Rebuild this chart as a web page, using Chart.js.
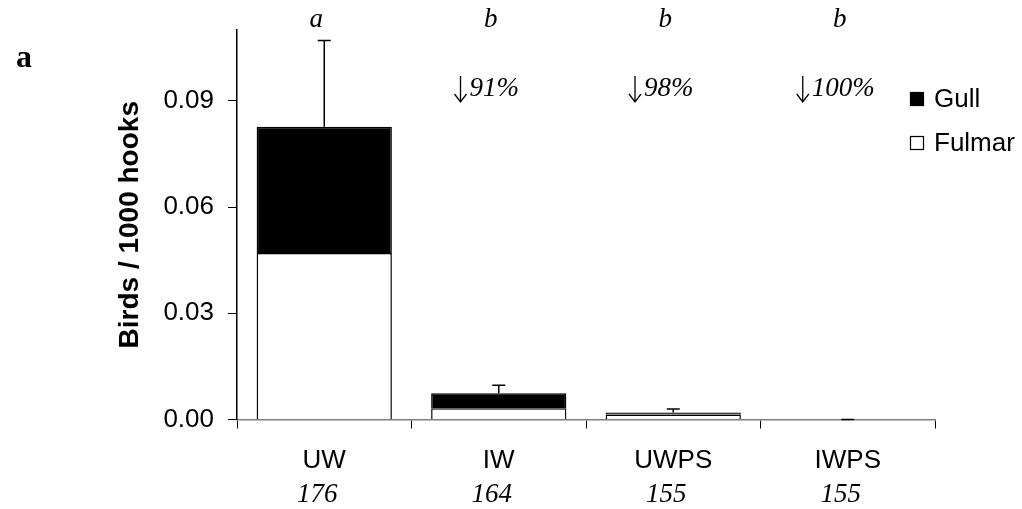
<!DOCTYPE html>
<html>
<head>
<meta charset="utf-8">
<script src="https://cdn.jsdelivr.net/npm/chart.js@4/dist/chart.umd.min.js"></script>
<style>
  html, body { margin: 0; padding: 0; background: #fff; }
  #wrap { width: 1022px; height: 509px; position: relative; }
</style>
</head>
<body>
<div id="wrap"><canvas id="c" width="1022" height="509"></canvas></div>
<script>
// Treatments and sample sizes (sets)
const categories = ['UW', 'IW', 'UWPS', 'IWPS'];
const sampleSizes = ['176', '164', '155', '155'];
// Seabird catch rate (birds / 1000 hooks), stacked by species
const fulmar = [0.0470, 0.0032, 0.0014, 0];
const gull   = [0.0357, 0.0042, 0.0006, 0];
// Upper end of the error bar on the total catch rate
const errorTop = [0.1070, 0.0097, 0.0030, 0];
// Significance groups and reduction relative to UW
const sigLetters = ['a', 'b', 'b', 'b'];
const reductions = ['', '91%', '98%', '100%'];
// y-axis ticks
const yTicks = [0, 0.03, 0.06, 0.09];

const SANS = '"Liberation Sans", Arial, sans-serif';
const SERIF = '"Liberation Serif", "Times New Roman", serif';

const annotate = {
  id: 'annotate',
  afterDatasetsDraw(chart) {
    const ctx = chart.ctx;
    const x = chart.scales.x, y = chart.scales.y;
    ctx.save();
    // error bars
    ctx.strokeStyle = '#000';
    ctx.lineWidth = 1.5;
    categories.forEach((c, i) => {
      const cx = x.getPixelForValue(i);
      const y0 = y.getPixelForValue(fulmar[i] + gull[i]);
      const y1 = y.getPixelForValue(errorTop[i]);
      ctx.beginPath();
      ctx.moveTo(cx, y0); ctx.lineTo(cx, y1);
      ctx.moveTo(cx - 6.5, y1); ctx.lineTo(cx + 6.5, y1);
      ctx.stroke();
    });
    // letters, reductions and sample sizes
    ctx.fillStyle = '#000';
    ctx.textBaseline = 'alphabetic';
    categories.forEach((c, i) => {
      const cx = x.getPixelForValue(i);
      ctx.textAlign = 'center';
      ctx.font = 'italic 27px ' + SERIF;
      ctx.fillText(sigLetters[i], cx - 8, 27);
      ctx.fillText(sampleSizes[i], cx - 7, 502);
      if (reductions[i]) {
        // downward arrow followed by the percentage
        const txt = reductions[i];
        const w = ctx.measureText(txt).width;
        const left = cx - 12 - (w + 15) / 2;
        ctx.textAlign = 'left';
        ctx.fillText(txt, left + 15, 96);
        ctx.lineWidth = 1.3;
        ctx.beginPath();
        ctx.moveTo(left + 6, 76); ctx.lineTo(left + 6, 102);
        ctx.moveTo(left, 94); ctx.lineTo(left + 6, 102); ctx.lineTo(left + 12, 94);
        ctx.stroke();
      }
    });
    // panel letter
    ctx.textAlign = 'left';
    ctx.font = 'bold 32px ' + SERIF;
    ctx.fillText('a', 16, 67);
    // legend: Gull above Fulmar
    const items = [chart.data.datasets[1], chart.data.datasets[0]];
    ctx.font = '26px ' + SANS;
    items.forEach((ds, k) => {
      const top = 92 + k * 44;
      ctx.fillStyle = ds.backgroundColor;
      ctx.fillRect(910, top, 14, 14);
      ctx.strokeStyle = '#000';
      ctx.lineWidth = 1.2;
      ctx.strokeRect(910.5, top + 0.5, 13, 13);
      ctx.fillStyle = '#000';
      ctx.fillText(ds.label, 934, top + 15);
    });
    ctx.restore();
  }
};

new Chart(document.getElementById('c'), {
  type: 'bar',
  data: {
    labels: categories,
    datasets: [
      { label: 'Fulmar', data: fulmar, backgroundColor: '#ffffff', borderColor: '#000', borderWidth: 1.5 },
      { label: 'Gull', data: gull, backgroundColor: '#000000', borderColor: '#000', borderWidth: 1.5 }
    ]
  },
  options: {
    responsive: false,
    animation: false,
    events: [],
    layout: { padding: { left: 0, right: 87, top: 30, bottom: 0 } },
    datasets: { bar: { categoryPercentage: 1, barPercentage: 0.775 } },
    plugins: { legend: { display: false }, tooltip: { enabled: false } },
    scales: {
      x: {
        stacked: true,
        grid: { drawOnChartArea: false, tickLength: 9, color: '#000', offset: true },
        border: { color: '#808080', width: 1.5 },
        ticks: { color: '#000', font: { family: SANS, size: 26 }, padding: 17 },
        afterFit(s) { s.height = 89.5; }
      },
      y: {
        stacked: true,
        min: 0,
        max: 0.11,
        afterBuildTicks(s) { s.ticks = yTicks.map(v => ({ value: v })); },
        grid: { drawOnChartArea: false, tickLength: 9, color: '#000' },
        border: { color: '#000', width: 1.5 },
        ticks: { color: '#000', font: { family: SANS, size: 26 }, padding: 14,
                 callback: v => Number(v).toFixed(2) },
        title: { display: true, text: 'Birds / 1000 hooks', color: '#000',
                 font: { family: SANS, size: 28, weight: 'bold' }, padding: { top: 113, bottom: 0 } },
        afterFit(s) { s.width = 237; }
      }
    }
  },
  plugins: [annotate]
});
</script>
</body>
</html>
